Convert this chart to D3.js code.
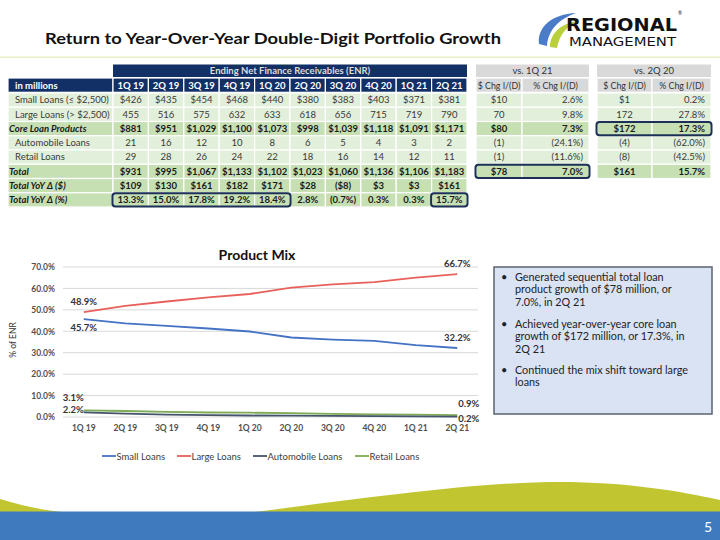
<!DOCTYPE html>
<html><head><meta charset="utf-8">
<script src="https://cdn.jsdelivr.net/npm/d3@7"></script>
<style>body{margin:0;background:#fff}svg{display:block;font-family:Lato,'Open Sans',sans-serif}</style>
</head><body><svg id="c" width="720" height="540"></svg>
<script>
// ---------- DATA ----------
const quarters = ["1Q 19","2Q 19","3Q 19","4Q 19","1Q 20","2Q 20","3Q 20","4Q 20","1Q 21","2Q 21"];
const rowLabels = ["Small Loans (\u2264 $2,500)","Large Loans (> $2,500)","Core Loan Products","Automobile Loans","Retail Loans","Total","Total YoY \u0394 ($)","Total YoY \u0394 (%)"];
const boldRows = [2,5,6,7];
const smallLoansRow = ["$426","$435","$454","$468","$440","$380","$383","$403","$371","$381"];
const largeLoansRow = ["455","516","575","632","633","618","656","715","719","790"];
const coreLoansRow = ["$881","$951","$1,029","$1,100","$1,073","$998","$1,039","$1,118","$1,091","$1,171"];
const autoLoansRow = ["21","16","12","10","8","6","5","4","3","2"];
const retailLoansRow = ["29","28","26","24","22","18","16","14","12","11"];
const totalRow = ["$931","$995","$1,067","$1,133","$1,102","$1,023","$1,060","$1,136","$1,106","$1,183"];
const yoyDollarRow = ["$109","$130","$161","$182","$171","$28","($8)","$3","$3","$161"];
const yoyPctRow = ["13.3%","15.0%","17.8%","19.2%","18.4%","2.8%","(0.7%)","0.3%","0.3%","15.7%"];
const vs1Q21Dollar = ["$10","70","$80","(1)","(1)","$78"];
const vs1Q21Pct = ["2.6%","9.8%","7.3%","(24.1%)","(11.6%)","7.0%"];
const vs2Q20Dollar = ["$1","172","$172","(4)","(8)","$161"];
const vs2Q20Pct = ["0.2%","27.8%","17.3%","(62.0%)","(42.5%)","15.7%"];

const mixCategories = ["1Q 19","2Q 19","3Q 19","4Q 19","1Q 20","2Q 20","3Q 20","4Q 20","1Q 21","2Q 21"];
const smallLoansPct = [45.7,43.7,42.5,41.3,39.9,37.1,36.1,35.5,33.5,32.2];
const largeLoansPct = [48.9,51.9,53.9,55.8,57.4,60.4,61.9,62.9,65.0,66.7];
const autoLoansPct = [2.2,1.6,1.1,0.9,0.7,0.6,0.5,0.4,0.3,0.2];
const retailLoansPct = [3.1,2.8,2.4,2.1,2.0,1.8,1.5,1.2,1.1,0.9];
const yTicks = [0,10,20,30,40,50,60,70];
const seriesNames = ["Small Loans","Large Loans","Automobile Loans","Retail Loans"];
const bullets = [
  ["Generated sequential total loan","product growth of $78 million, or","7.0%, in 2Q 21"],
  ["Achieved year-over-year core loan","growth of $172 million, or 17.3%, in","2Q 21"],
  ["Continued the mix shift toward large","loans"]
];

// ---------- SETUP ----------
const svg = d3.select("#c");
const navy = "#122f66", light = "#e2efda", dark = "#c6e0b4", grey = "#d9d9d9", txt = "#3a3a3a";

// Title
svg.append("text").attr("x",45).attr("y",44).attr("font-size",16).attr("font-weight","bold")
  .attr("fill","#111").attr("textLength",456).attr("lengthAdjust","spacingAndGlyphs")
  .text("Return to Year-Over-Year Double-Digit Portfolio Growth");
svg.append("rect").attr("x",0).attr("y",56.5).attr("width",720).attr("height",1.6).attr("fill","#e9f0c6");

// Logo
const logo = svg.append("g");
logo.append("path").attr("d","M539,44 C537,27 552,14 576,13 C559,19 548,30 547,46 Z").attr("fill","#4a7cc7");
logo.append("path").attr("d","M550,47 C550,34 560,24 577,21 C566,27 559,36 557,48 Z").attr("fill","#b9cf3c");
logo.append("text").attr("x",566).attr("y",31).attr("font-family","'Liberation Sans Narrow','DejaVu Sans Condensed',sans-serif")
  .attr("font-weight","bold").attr("font-size",17).attr("textLength",111).attr("lengthAdjust","spacingAndGlyphs").attr("fill","#111").text("REGIONAL");
logo.append("text").attr("x",569).attr("y",46).attr("font-family","'Liberation Sans Narrow','DejaVu Sans Condensed',sans-serif")
  .attr("font-size",11.5).attr("textLength",107).attr("lengthAdjust","spacingAndGlyphs").attr("fill","#111").text("MANAGEMENT");
logo.append("text").attr("x",678).attr("y",15).attr("font-size",5).attr("fill","#111").text("\u00ae");

// ---------- MAIN TABLE ----------
const tx = d3.scaleBand().domain(quarters).range([113,467]);
const ty = d3.scaleBand().domain(d3.range(8)).range([93,207]);
const rowsData = [smallLoansRow,largeLoansRow,coreLoansRow,autoLoansRow,retailLoansRow,totalRow,yoyDollarRow,yoyPctRow];
const tbl = svg.append("g").attr("font-size",9.5);
tbl.append("rect").attr("x",113).attr("y",64.5).attr("width",354).attr("height",12.5).attr("fill",navy);
tbl.append("text").attr("x",290).attr("y",74).attr("text-anchor","middle").attr("fill","#dcdcdc").attr("font-weight","bold")
  .text("Ending Net Finance Receivables (ENR)");
tbl.append("rect").attr("x",8).attr("y",78).attr("width",105).attr("height",14.3).attr("fill",navy).attr("stroke","#fff").attr("stroke-width",1.2);
tbl.append("text").attr("x",15).attr("y",88.5).attr("fill","#fff").attr("font-weight","bold").text("in millions");
quarters.forEach(q=>{
  tbl.append("rect").attr("x",tx(q)).attr("y",78).attr("width",tx.bandwidth()).attr("height",14.3).attr("fill",navy).attr("stroke","#fff").attr("stroke-width",1.2);
  tbl.append("text").attr("x",tx(q)+tx.bandwidth()/2).attr("y",88.5).attr("text-anchor","middle").attr("fill","#fff").attr("font-weight","bold").text(q);
});
rowsData.forEach((row,i)=>{
  const b = boldRows.includes(i);
  const fill = b ? dark : light;
  tbl.append("rect").attr("x",8).attr("y",ty(i)).attr("width",105).attr("height",ty.bandwidth()).attr("fill",fill).attr("stroke","#fff").attr("stroke-width",1.2);
  tbl.append("text").attr("x",b?9:15).attr("y",ty(i)+ty.bandwidth()/2+3.3).attr("fill",b?"#1a1a1a":txt)
    .attr("font-weight",b?"bold":"normal").attr("font-style",b?"italic":"normal").text(rowLabels[i]);
  row.forEach((v,j)=>{
    const q = quarters[j];
    tbl.append("rect").attr("x",tx(q)).attr("y",ty(i)).attr("width",tx.bandwidth()).attr("height",ty.bandwidth()).attr("fill",fill).attr("stroke","#fff").attr("stroke-width",1.2);
    tbl.append("text").attr("x",tx(q)+tx.bandwidth()/2).attr("y",ty(i)+ty.bandwidth()/2+3.3).attr("text-anchor","middle")
      .attr("fill",b?"#1a1a1a":txt).attr("font-weight",b?"bold":"normal").text(v);
  });
});
const hl = (x0,x1,r)=> svg.append("rect").attr("x",x0).attr("y",ty(r)+0.5).attr("width",x1-x0).attr("height",ty.bandwidth()-1)
  .attr("rx",3).attr("fill","none").attr("stroke","#1b2f57").attr("stroke-width",2);
hl(tx(quarters[0])-0.5, tx(quarters[4])+tx.bandwidth()+0.5, 7);
hl(tx(quarters[9])-0.5, tx(quarters[9])+tx.bandwidth()+0.5, 7);

// ---------- VS TABLES ----------
function vsTable(x0,xm,x1,title,dol,pct,boxRow){
  const g = svg.append("g").attr("font-size",9.5);
  g.append("rect").attr("x",x0).attr("y",64.5).attr("width",x1-x0).attr("height",12.5).attr("fill",grey);
  g.append("text").attr("x",(x0+x1)/2).attr("y",74).attr("text-anchor","middle").attr("fill","#333").text(title);
  [[x0,xm,"$ Chg I/(D)"],[xm,x1,"% Chg I/(D)"]].forEach(([a,b,t])=>{
    g.append("rect").attr("x",a).attr("y",78).attr("width",b-a).attr("height",14.3).attr("fill",grey).attr("stroke","#fff").attr("stroke-width",1.2);
    g.append("text").attr("x",(a+b)/2).attr("y",88.5).attr("text-anchor","middle").attr("fill","#333").attr("font-size",8.8).text(t);
  });
  dol.forEach((v,i)=>{
    const b = i===2||i===5;
    const fill = b?dark:light;
    g.append("rect").attr("x",x0).attr("y",ty(i)).attr("width",xm-x0).attr("height",ty.bandwidth()).attr("fill",fill).attr("stroke","#fff").attr("stroke-width",1.2);
    g.append("rect").attr("x",xm).attr("y",ty(i)).attr("width",x1-xm).attr("height",ty.bandwidth()).attr("fill",fill).attr("stroke","#fff").attr("stroke-width",1.2);
    g.append("text").attr("x",(x0+xm)/2).attr("y",ty(i)+ty.bandwidth()/2+3.3).attr("text-anchor","middle")
      .attr("fill",b?"#1a1a1a":txt).attr("font-weight",b?"bold":"normal").text(v);
    g.append("text").attr("x",x1-6).attr("y",ty(i)+ty.bandwidth()/2+3.3).attr("text-anchor","end")
      .attr("fill",b?"#1a1a1a":txt).attr("font-weight",b?"bold":"normal").text(pct[i]);
  });
  hl(x0-0.5,x1+0.5,boxRow);
}
vsTable(476,522,589,"vs. 1Q 21",vs1Q21Dollar,vs1Q21Pct,5);
vsTable(597,652,711,"vs. 2Q 20",vs2Q20Dollar,vs2Q20Pct,2);

// ---------- PRODUCT MIX CHART ----------
const cx = d3.scaleBand().domain(mixCategories).range([63,478]);
const px = c => cx(c)+cx.bandwidth()/2;
const cy = d3.scaleLinear().domain([0,70]).range([417,267]);
const ch = svg.append("g");
ch.append("text").attr("x",257).attr("y",260).attr("text-anchor","middle").attr("font-size",14).attr("font-weight","bold").attr("fill","#111").text("Product Mix");
ch.append("g").selectAll("line").data(yTicks).join("line")
  .attr("x1",63).attr("x2",478).attr("y1",d=>cy(d)).attr("y2",d=>cy(d)).attr("stroke","#d9d9d9").attr("stroke-width",1);
const yAxis = ch.append("g").attr("transform","translate(63,0)")
  .call(d3.axisLeft(cy).tickValues(yTicks).tickFormat(d=>d.toFixed(1)+"%").tickSize(0).tickPadding(8));
yAxis.select(".domain").remove();
yAxis.selectAll("text").attr("font-size",8.5).attr("font-weight","bold").attr("fill","#505050").attr("font-family","Lato,sans-serif");
const xAxis = ch.append("g").attr("transform","translate(0,417)")
  .call(d3.axisBottom(cx).tickSize(0).tickPadding(8));
xAxis.select(".domain").remove();
xAxis.selectAll("text").attr("font-size",8.5).attr("font-weight","bold").attr("fill","#505050").attr("font-family","Lato,sans-serif");
ch.append("text").attr("transform","translate(16,340) rotate(-90)").attr("text-anchor","middle").attr("font-size",8.5).attr("fill","#333").text("% of ENR");

const colors = ["#4472c4","#e8605b","#44546a","#7eab55"];
const series = [smallLoansPct,largeLoansPct,autoLoansPct,retailLoansPct];
const line = d3.line().x((d,i)=>px(mixCategories[i])).y(d=>cy(d));
[3,2,0,1].forEach(k=>{
  ch.append("path").datum(series[k]).attr("d",line).attr("fill","none").attr("stroke",colors[k]).attr("stroke-width",1.8);
});
const n = mixCategories.length-1;
const lab = (x,y,t,anchor)=>ch.append("text").attr("x",x).attr("y",y).attr("text-anchor",anchor||"middle")
  .attr("font-size",9.5).attr("font-weight","bold").attr("fill","#333").text(t);
const f = v=>v.toFixed(1)+"%";
lab(px(mixCategories[0]), cy(largeLoansPct[0])-7, f(largeLoansPct[0]));
lab(px(mixCategories[0]), cy(smallLoansPct[0])+12, f(smallLoansPct[0]));
lab(px(mixCategories[0]), cy(retailLoansPct[0])-9, f(retailLoansPct[0]),"end");
lab(px(mixCategories[0]), cy(autoLoansPct[0])+1, f(autoLoansPct[0]),"end");
lab(px(mixCategories[n]), cy(largeLoansPct[n])-7, f(largeLoansPct[n]));
lab(px(mixCategories[n]), cy(smallLoansPct[n])-7, f(smallLoansPct[n]));
lab(px(mixCategories[n])+1, cy(retailLoansPct[n])-8, f(retailLoansPct[n]),"start");
lab(px(mixCategories[n])+1, cy(autoLoansPct[n])+5, f(autoLoansPct[n]),"start");

// Legend
const legX = [102,177,253,355];
seriesNames.forEach((s,k)=>{
  ch.append("line").attr("x1",legX[k]).attr("x2",legX[k]+14).attr("y1",456).attr("y2",456).attr("stroke",colors[k]).attr("stroke-width",1.8);
  ch.append("text").attr("x",legX[k]+14.5).attr("y",459.5).attr("font-size",9.5).attr("fill","#404040").text(s);
});

// ---------- BULLET BOX ----------
svg.append("rect").attr("x",494).attr("y",267).attr("width",218).attr("height",147).attr("fill","#dae3f3").attr("stroke","#5b6370").attr("stroke-width",1.5);
const by = [281,328,374];
bullets.forEach((b,i)=>{
  svg.append("text").attr("x",501).attr("y",by[i]).attr("font-size",11).attr("fill","#222").text("\u2022");
  b.forEach((l,j)=>svg.append("text").attr("x",515).attr("y",by[i]+j*12.4).attr("font-size",10.8).attr("fill","#222").text(l));
});

// ---------- FOOTER ----------
svg.append("path").attr("d","M0,499 C20,505 40,510 62,512 L255,512 C380,496 480,482 560,482 C625,482 680,491 720,500 L720,512 L0,512 Z").attr("fill","#c1c630");
svg.append("rect").attr("x",0).attr("y",511.5).attr("width",720).attr("height",28.5).attr("fill","#3f7abf");
svg.append("text").attr("x",712).attr("y",532).attr("text-anchor","end").attr("font-size",14).attr("fill","#fff").text("5");
</script></body></html>
